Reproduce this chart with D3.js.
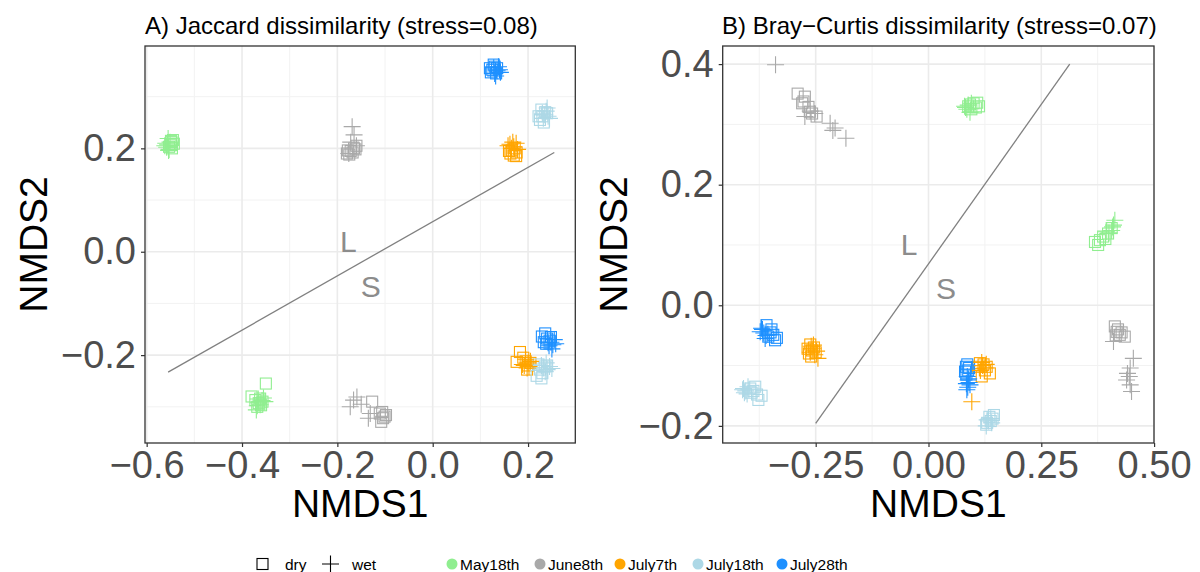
<!DOCTYPE html>
<html><head><meta charset="utf-8">
<script src="https://cdn.jsdelivr.net/npm/d3@7"></script>
<style>body{margin:0;background:#fff;} svg{display:block;font-family:"Liberation Sans",Arial,Helvetica,sans-serif;}</style>
</head><body>
<svg id="chart" width="1200" height="572"></svg>
<script>
const dates = ["May18th","June8th","July7th","July18th","July28th"];
const dateColors = ["#90EE90","#A9A9A9","#FFA500","#ADD8E6","#1E90FF"];
const treatments = ["dry","wet"];

const jacXTicks = [-0.6,-0.4,-0.2,0.0,0.2];
const jacYTicks = [-0.2,0.0,0.2];
const brayXTicks = [-0.25,0.00,0.25,0.50];
const brayYTicks = [-0.2,0.0,0.2,0.4];

// Jaccard (panel A) points: [date, NMDS1, NMDS2]
const jaccardDry = [
 ["May18th",-0.548,0.212],["May18th",-0.545,0.216],["May18th",-0.550,0.206],["May18th",-0.543,0.209],["May18th",-0.553,0.203],["May18th",-0.547,0.200],["May18th",-0.549,0.214],
 ["May18th",-0.350,-0.255],["May18th",-0.380,-0.280],["May18th",-0.372,-0.287],["May18th",-0.365,-0.293],["May18th",-0.360,-0.297],["May18th",-0.368,-0.300],["May18th",-0.357,-0.290],["May18th",-0.362,-0.284],
 ["June8th",-0.180,0.190],["June8th",-0.172,0.195],["June8th",-0.165,0.200],["June8th",-0.160,0.205],["June8th",-0.175,0.188],["June8th",-0.168,0.192],["June8th",-0.162,0.198],["June8th",-0.178,0.196],
 ["June8th",-0.127,-0.290],["June8th",-0.111,-0.313],["June8th",-0.104,-0.322],["June8th",-0.101,-0.319],["June8th",-0.108,-0.329],["June8th",-0.098,-0.316],["June8th",-0.106,-0.310],
 ["July7th",0.163,0.190],["July7th",0.170,0.186],["July7th",0.176,0.192],["July7th",0.166,0.196],["July7th",0.172,0.200],["July7th",0.160,0.195],["July7th",0.175,0.185],
 ["July7th",0.183,-0.194],["July7th",0.176,-0.213],["July7th",0.195,-0.212],["July7th",0.200,-0.220],["July7th",0.190,-0.205],["July7th",0.198,-0.228],["July7th",0.205,-0.215],
 ["July18th",0.225,0.255],["July18th",0.230,0.262],["July18th",0.236,0.270],["July18th",0.228,0.275],["July18th",0.240,0.268],["July18th",0.222,0.262],["July18th",0.233,0.250],
 ["July18th",0.218,-0.240],["July18th",0.225,-0.228],["July18th",0.235,-0.222],["July18th",0.230,-0.235],["July18th",0.240,-0.220],["July18th",0.222,-0.218],["July18th",0.228,-0.245],
 ["July28th",0.125,0.352],["July28th",0.130,0.358],["July28th",0.122,0.347],["July28th",0.135,0.355],["July28th",0.128,0.362],["July28th",0.133,0.345],["July28th",0.120,0.355],
 ["July28th",0.236,-0.158],["July28th",0.229,-0.164],["July28th",0.240,-0.168],["July28th",0.245,-0.172],["July28th",0.238,-0.178],["July28th",0.248,-0.165],["July28th",0.233,-0.175]
];
const jaccardWet = [
 ["May18th",-0.556,0.207],["May18th",-0.560,0.210],["May18th",-0.553,0.198],["May18th",-0.558,0.202],["May18th",-0.551,0.212],["May18th",-0.555,0.219],["May18th",-0.562,0.205],["May18th",-0.554,0.196],
 ["May18th",-0.365,-0.292],["May18th",-0.358,-0.288],["May18th",-0.368,-0.298],["May18th",-0.355,-0.283],["May18th",-0.370,-0.306],["May18th",-0.362,-0.296],["May18th",-0.352,-0.290],["May18th",-0.366,-0.285],
 ["June8th",-0.169,0.242],["June8th",-0.165,0.226],["June8th",-0.172,0.212],["June8th",-0.176,0.190],["June8th",-0.160,0.205],
 ["June8th",-0.159,-0.281],["June8th",-0.173,-0.300],["June8th",-0.166,-0.287],["June8th",-0.135,-0.322],["June8th",-0.131,-0.313],["June8th",-0.150,-0.295],
 ["July7th",0.168,0.212],["July7th",0.162,0.208],["July7th",0.175,0.210],["July7th",0.170,0.203],["July7th",0.165,0.200],["July7th",0.178,0.198],["July7th",0.158,0.205],
 ["July7th",0.195,-0.208],["July7th",0.200,-0.215],["July7th",0.192,-0.220],["July7th",0.205,-0.212],["July7th",0.198,-0.225],["July7th",0.188,-0.218],["July7th",0.202,-0.222],
 ["July18th",0.235,0.265],["July18th",0.242,0.262],["July18th",0.238,0.272],["July18th",0.230,0.268],["July18th",0.245,0.258],["July18th",0.240,0.278],["July18th",0.232,0.258],
 ["July18th",0.232,-0.225],["July18th",0.240,-0.228],["July18th",0.245,-0.222],["July18th",0.236,-0.232],["July18th",0.228,-0.220],["July18th",0.250,-0.226],["July18th",0.238,-0.215],
 ["July28th",0.135,0.350],["July28th",0.140,0.352],["July28th",0.130,0.345],["July28th",0.138,0.358],["July28th",0.132,0.340],["July28th",0.142,0.347],["July28th",0.128,0.356],
 ["July28th",0.248,-0.175],["July28th",0.252,-0.180],["July28th",0.244,-0.182],["July28th",0.255,-0.170],["July28th",0.250,-0.188],["July28th",0.242,-0.176],["July28th",0.258,-0.178]
];

// Bray-Curtis (panel B) points
const brayDry = [
 ["May18th",0.092,0.333],["May18th",0.100,0.335],["May18th",0.108,0.336],["May18th",0.105,0.328],["May18th",0.095,0.325],["May18th",0.112,0.330],["May18th",0.088,0.330],
 ["May18th",0.369,0.105],["May18th",0.376,0.100],["May18th",0.387,0.114],["May18th",0.392,0.110],["May18th",0.398,0.119],["May18th",0.406,0.128],["May18th",0.380,0.108],
 ["June8th",-0.290,0.351],["June8th",-0.274,0.346],["June8th",-0.277,0.338],["June8th",-0.266,0.329],["June8th",-0.263,0.321],["June8th",-0.248,0.313],["June8th",-0.280,0.335],["June8th",-0.258,0.318],
 ["June8th",0.413,-0.035],["June8th",0.417,-0.044],["June8th",0.424,-0.049],["June8th",0.435,-0.052],["June8th",0.420,-0.040],["June8th",0.415,-0.050],["June8th",0.428,-0.045],
 ["July7th",-0.262,-0.065],["July7th",-0.258,-0.075],["July7th",-0.265,-0.080],["July7th",-0.254,-0.070],["July7th",-0.260,-0.085],["July7th",-0.250,-0.078],["July7th",-0.268,-0.072],
 ["July7th",0.114,-0.096],["July7th",0.122,-0.098],["July7th",0.129,-0.102],["July7th",0.136,-0.113],["July7th",0.118,-0.118],["July7th",0.110,-0.102],["July7th",0.125,-0.108],
 ["July18th",-0.395,-0.138],["July18th",-0.388,-0.142],["July18th",-0.380,-0.148],["July18th",-0.377,-0.157],["July18th",-0.370,-0.150],["July18th",-0.392,-0.145],["July18th",-0.384,-0.135],
 ["July18th",0.135,-0.185],["July18th",0.142,-0.188],["July18th",0.130,-0.195],["July18th",0.145,-0.182],["July18th",0.138,-0.192],["July18th",0.128,-0.198],
 ["July28th",-0.359,-0.033],["July28th",-0.350,-0.045],["July28th",-0.344,-0.049],["July28th",-0.340,-0.058],["July28th",-0.355,-0.052],["July28th",-0.348,-0.040],["July28th",-0.336,-0.054],
 ["July28th",0.083,-0.102],["July28th",0.081,-0.110],["July28th",0.086,-0.098],["July28th",0.088,-0.108],["July28th",0.084,-0.115],["July28th",0.090,-0.104]
];
const brayWet = [
 ["May18th",0.082,0.328],["May18th",0.088,0.332],["May18th",0.085,0.325],["May18th",0.092,0.320],["May18th",0.095,0.335],["May18th",0.080,0.330],
 ["May18th",0.410,0.133],["May18th",0.413,0.141],["May18th",0.406,0.124],["May18th",0.400,0.120],["May18th",0.408,0.130],["May18th",0.395,0.122],
 ["June8th",-0.339,0.399],["June8th",-0.274,0.313],["June8th",-0.252,0.318],["June8th",-0.262,0.322],["June8th",-0.218,0.302],["June8th",-0.207,0.294],["June8th",-0.212,0.290],["June8th",-0.183,0.277],
 ["June8th",0.410,-0.060],["June8th",0.454,-0.088],["June8th",0.447,-0.104],["June8th",0.441,-0.113],["June8th",0.439,-0.124],["June8th",0.447,-0.132],["June8th",0.450,-0.143],["June8th",0.445,-0.118],
 ["July7th",-0.256,-0.072],["July7th",-0.260,-0.068],["July7th",-0.252,-0.082],["July7th",-0.248,-0.076],["July7th",-0.245,-0.088],["July7th",-0.262,-0.078],["July7th",-0.255,-0.066],
 ["July7th",0.120,-0.100],["July7th",0.125,-0.104],["July7th",0.115,-0.108],["July7th",0.128,-0.098],["July7th",0.096,-0.160],["July7th",0.118,-0.095],
 ["July18th",-0.410,-0.138],["July18th",-0.405,-0.142],["July18th",-0.400,-0.135],["July18th",-0.408,-0.145],["July18th",-0.398,-0.140],["July18th",-0.412,-0.140],["July18th",-0.402,-0.147],
 ["July18th",0.133,-0.192],["July18th",0.138,-0.188],["July18th",0.128,-0.200],["July18th",0.140,-0.195],["July18th",0.130,-0.190],
 ["July28th",-0.373,-0.044],["July28th",-0.365,-0.046],["July28th",-0.360,-0.050],["July28th",-0.368,-0.040],["July28th",-0.356,-0.048],["July28th",-0.362,-0.055],["July28th",-0.370,-0.038],
 ["July28th",0.086,-0.118],["July28th",0.088,-0.124],["July28th",0.084,-0.130],["July28th",0.090,-0.128],["July28th",0.087,-0.136],["July28th",0.085,-0.140],["July28th",0.089,-0.122],["July28th",0.092,-0.132]
];

// Separation lines and labels (data coords)
const jaccardLine = [[-0.555,-0.233],[0.255,0.192]];
const brayLine = [[-0.25,-0.196],[0.313,0.400]];
const jaccardLabels = [["L",-0.177,0.019],["S",-0.130,-0.068]];
const brayLabels = [["L",-0.043,0.100],["S",0.039,0.028]];

const svg = d3.select("#chart");
const color = d3.scaleOrdinal().domain(dates).range(dateColors);

function panel(cfg){
  const x = d3.scaleLinear().domain(cfg.xDomain).range([cfg.left, cfg.right]);
  const y = d3.scaleLinear().domain(cfg.yDomain).range([cfg.bottom, cfg.top]);
  const g = svg.append("g");
  g.selectAll(".mx").data(cfg.xMinor).enter().append("line")
    .attr("x1",d=>x(d)).attr("x2",d=>x(d)).attr("y1",cfg.top).attr("y2",cfg.bottom)
    .attr("stroke","#f2f2f2").attr("stroke-width",1);
  g.selectAll(".my").data(cfg.yMinor).enter().append("line")
    .attr("y1",d=>y(d)).attr("y2",d=>y(d)).attr("x1",cfg.left).attr("x2",cfg.right)
    .attr("stroke","#f2f2f2").attr("stroke-width",1);
  g.selectAll(".Mx").data(cfg.xTicks).enter().append("line")
    .attr("x1",d=>x(d)).attr("x2",d=>x(d)).attr("y1",cfg.top).attr("y2",cfg.bottom)
    .attr("stroke","#ebebeb").attr("stroke-width",1.6);
  g.selectAll(".My").data(cfg.yTicks).enter().append("line")
    .attr("y1",d=>y(d)).attr("y2",d=>y(d)).attr("x1",cfg.left).attr("x2",cfg.right)
    .attr("stroke","#ebebeb").attr("stroke-width",1.6);

  const pts = g.append("g");
  pts.selectAll("rect").data(cfg.dry).enter().append("rect")
    .attr("x",d=>x(d[1])-5.5).attr("y",d=>y(d[2])-5.5).attr("width",11).attr("height",11)
    .attr("fill","none").attr("stroke",d=>color(d[0])).attr("stroke-width",1.1);
  pts.selectAll("path").data(cfg.wet).enter().append("path")
    .attr("d",d=>{const cx=x(d[1]), cy=y(d[2]); return `M${cx-8.5},${cy}H${cx+8.5}M${cx},${cy-8.5}V${cy+8.5}`;})
    .attr("fill","none").attr("stroke",d=>color(d[0])).attr("stroke-width",1.1);

  g.append("line").attr("x1",x(cfg.line[0][0])).attr("y1",y(cfg.line[0][1]))
    .attr("x2",x(cfg.line[1][0])).attr("y2",y(cfg.line[1][1]))
    .attr("stroke","#808080").attr("stroke-width",1.3);
  g.selectAll(".lab").data(cfg.labels).enter().append("text")
    .attr("x",d=>x(d[1])).attr("y",d=>y(d[2])).attr("text-anchor","middle").attr("dominant-baseline","central")
    .attr("font-size",30).attr("fill","#8c8c8c").text(d=>d[0]);

  g.append("rect").attr("x",cfg.left).attr("y",cfg.top).attr("width",cfg.right-cfg.left).attr("height",cfg.bottom-cfg.top)
    .attr("fill","none").attr("stroke","#333").attr("stroke-width",1.3);

  const xa = g.append("g").attr("transform",`translate(0,${cfg.bottom})`)
    .call(d3.axisBottom(x).tickValues(cfg.xTicks).tickSize(4).tickPadding(4).tickFormat(cfg.xFmt));
  const ya = g.append("g").attr("transform",`translate(${cfg.left},0)`)
    .call(d3.axisLeft(y).tickValues(cfg.yTicks).tickSize(4).tickPadding(5).tickFormat(d3.format(".1f")));
  [xa,ya].forEach(a=>{
    a.select(".domain").remove();
    a.selectAll(".tick line").attr("stroke","#333").attr("stroke-width",1.2);
    a.selectAll("text").attr("font-size",38).attr("fill","#4d4d4d").attr("font-family","'Liberation Sans',Arial,sans-serif");
  });
  xa.selectAll("text").attr("dy","0.71em");

  svg.append("text").attr("x",(cfg.left+cfg.right)/2).attr("y",517).attr("text-anchor","middle")
    .attr("font-size",39).attr("fill","#000").text("NMDS1");
  svg.append("text").attr("transform",`translate(${cfg.ylabX},${(cfg.top+cfg.bottom)/2}) rotate(-90)`)
    .attr("text-anchor","middle").attr("dominant-baseline","central")
    .attr("font-size",39).attr("fill","#000").text("NMDS2");
  svg.append("text").attr("x",cfg.titleX).attr("y",34).attr("font-size",24).attr("fill","#000").text(cfg.title);
}

panel({left:145,right:575.3,top:46,bottom:443,
  xDomain:[-0.6035,0.2991], yDomain:[-0.370,0.398],
  xTicks:jacXTicks, yTicks:jacYTicks, xMinor:[-0.5,-0.3,-0.1,0.1], yMinor:[-0.3,-0.1,0.1,0.3],
  xFmt:d3.format(".1f"), dry:jaccardDry, wet:jaccardWet, line:jaccardLine, labels:jaccardLabels,
  ylabX:33, titleX:145, title:"A) Jaccard dissimilarity (stress=0.08)"});
panel({left:722.7,right:1154,top:46,bottom:443,
  xDomain:[-0.4561,0.4998], yDomain:[-0.2284,0.430],
  xTicks:brayXTicks, yTicks:brayYTicks, xMinor:[-0.375,-0.125,0.125,0.375], yMinor:[-0.1,0.1,0.3],
  xFmt:d3.format(".2f"), dry:brayDry, wet:brayWet, line:brayLine, labels:brayLabels,
  ylabX:613, titleX:722, title:"B) Bray\u2212Curtis dissimilarity (stress=0.07)"});

const lg = svg.append("g").attr("font-size",15.5);
const ly = 564;
lg.append("rect").attr("x",257).attr("y",ly-5.5).attr("width",11).attr("height",11).attr("fill","none").attr("stroke","#000").attr("stroke-width",1.1);
lg.append("text").attr("x",285).attr("y",ly).attr("dominant-baseline","central").text(treatments[0]);
lg.append("path").attr("d",`M${322},${ly}H${339}M${330.5},${ly-8.5}V${ly+8.5}`).attr("stroke","#000").attr("stroke-width",1.1);
lg.append("text").attr("x",352).attr("y",ly).attr("dominant-baseline","central").text(treatments[1]);
const lx = [452,540,620,698,782];
dates.forEach((d,i)=>{
  lg.append("circle").attr("cx",lx[i]).attr("cy",ly).attr("r",5.5).attr("fill",color(d));
  lg.append("text").attr("x",lx[i]+8).attr("y",ly).attr("dominant-baseline","central").text(d);
});
</script>
</body></html>
